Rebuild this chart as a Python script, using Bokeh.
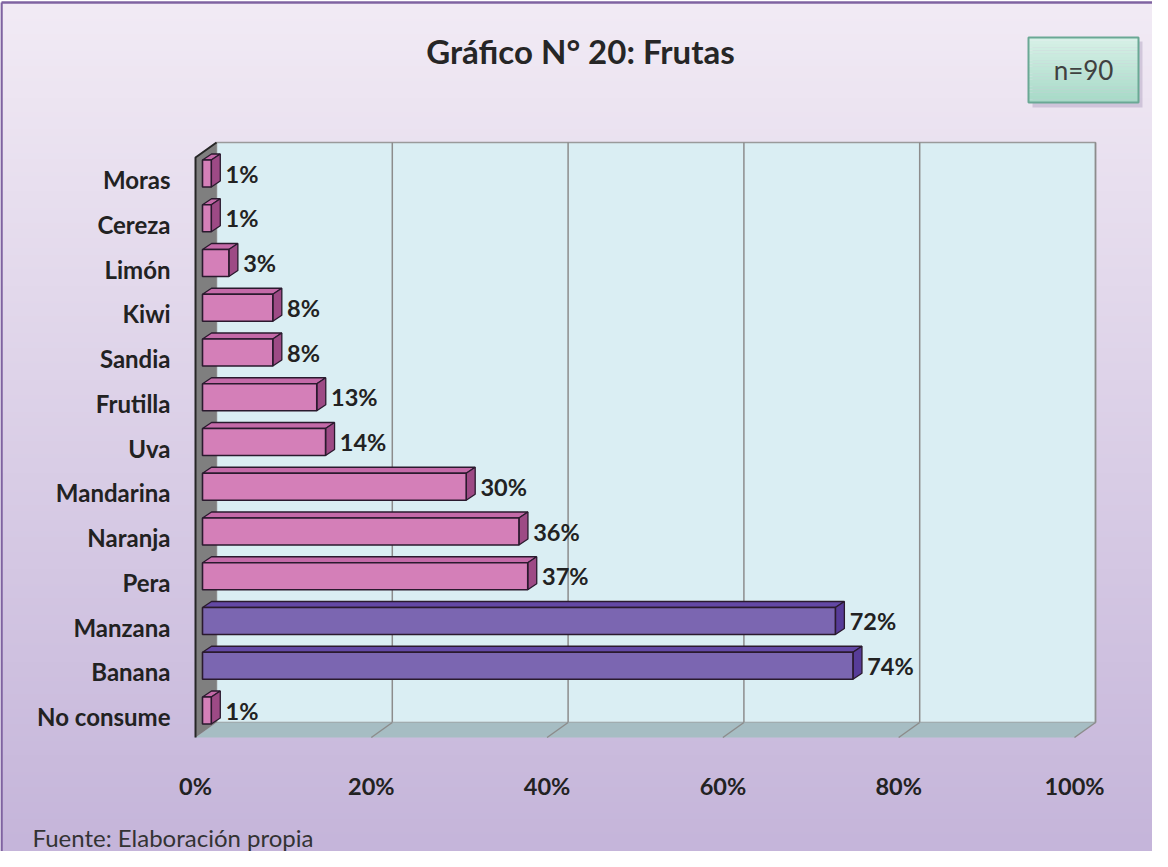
import numpy as np
from bokeh.plotting import figure
from bokeh.models import Range1d, ColumnDataSource
from bokeh.core.properties import value
from bokeh.embed import file_html
from bokeh.resources import INLINE

# ---------------- data ----------------
categories = ["No consume", "Banana", "Manzana", "Pera", "Naranja", "Mandarina",
              "Uva", "Frutilla", "Sandia", "Kiwi", "Limón", "Cereza", "Moras"]
values = [1, 74, 72, 37, 36, 30, 14, 13, 8, 8, 3, 1, 1]
highlight = ["Banana", "Manzana"]
x_ticks = [0, 20, 40, 60, 80, 100]
x_tick_labels = ["0%", "20%", "40%", "60%", "80%", "100%"]
title_text = "Gráfico N° 20: Frutas"
n_text = "n=90"
source_text = "Fuente: Elaboración propia"

# ---------------- geometry (page pixels -> data units) ----------------
W, H = 1152, 851
OFF = 8
X0, SX = 203.0, 8.79      # page x of 0 %, px per percent
Y0, SY = 724.0, 44.75     # page y of first category, px per category


def X(px):
    return (px - X0) / SX


def Y(py):
    return (Y0 - py) / SY


x_start, x_end = X(OFF), X(OFF + W)
y_start, y_end = Y(OFF + H), Y(OFF)

p = figure(width=W, height=H, x_range=Range1d(x_start, x_end), y_range=Range1d(y_start, y_end),
           output_backend="svg", toolbar_location=None, min_border=0,
           x_axis_location=None, y_axis_location=None, outline_line_color=None,
           background_fill_color="white", border_fill_color="white")
p.xgrid.visible = False
p.ygrid.visible = False

# background gradient
GH = 400
img = np.zeros((GH, 2), dtype=np.uint32)
view = img.view(dtype=np.uint8).reshape((GH, 2, 4))
top_c = np.array([242, 235, 245])
bot_c = np.array([197, 181, 218])
for r in range(GH):
    t = r / (GH - 1)  # 0 bottom, 1 top
    c = bot_c + (top_c - bot_c) * t
    view[r, :, 0] = int(c[0]); view[r, :, 1] = int(c[1]); view[r, :, 2] = int(c[2]); view[r, :, 3] = 255
p.image_rgba(image=[img], x=X(9), y=y_start, dw=x_end - X(9), dh=Y(10) - y_start)

# outer border
p.line([X(9), X(1170)], [Y(10), Y(10)], line_color="#7f63a1", line_width=2.5)
p.line([X(9), X(9)], [Y(10), Y(870)], line_color="#7f63a1", line_width=2.5)

# ---------------- 3D walls ----------------
DX = X(224) - X(203)
yf_bot, yb_bot = Y(745), Y(730)
yf_top, yb_top = Y(165), Y(150)

# back wall
p.quad(left=DX, right=100 + DX, bottom=yb_bot, top=yb_top,
       fill_color="#daeef3", line_color="#9a9a9a", line_width=1.5)
# grid lines on back wall and floor
for t in x_ticks[1:]:
    p.line([t + DX, t + DX], [yb_bot, yb_top], line_color="#8c8c8c", line_width=1.5)
# floor
p.patch([0, 100, 100 + DX, DX], [yf_bot, yf_bot, yb_bot, yb_bot],
        fill_color="#a6bdc3", line_color=None)
for t in x_ticks[1:]:
    p.line([t, t + DX], [yf_bot, yb_bot], line_color="#8c8c8c", line_width=1.5)
# left wall
p.patch([0, 0, DX, DX], [yf_bot, yf_top, yb_top, yb_bot],
        fill_color="#7f7f7f", line_color=None)
p.line([0, 0, DX], [yf_bot, yf_top, yb_top], line_color="#262626", line_width=2)

# ---------------- bars ----------------
BX = 7 / SX
BY = 6 / SY
BH = 27 / SY
BDX = 9 / SX
BDY = 6 / SY

front = dict(l=[], r=[], b=[], t=[], c=[])
tops = dict(xs=[], ys=[], c=[])
sides = dict(xs=[], ys=[], c=[])
lab = dict(x=[], y=[], text=[])
for i, (cat, v) in enumerate(zip(categories, values)):
    hi = cat in highlight
    yc = i + BY
    y0, y1 = yc - BH / 2, yc + BH / 2
    x0, x1 = BX, BX + v
    front["l"].append(x0); front["r"].append(x1); front["b"].append(y0); front["t"].append(y1)
    front["c"].append("#7b66b1" if hi else "#d47fb8")
    tops["xs"].append([x0, x1, x1 + BDX, x0 + BDX]); tops["ys"].append([y1, y1, y1 + BDY, y1 + BDY])
    tops["c"].append("#6348a5" if hi else "#c46aa8")
    sides["xs"].append([x1, x1 + BDX, x1 + BDX, x1]); sides["ys"].append([y0, y0 + BDY, y1 + BDY, y1])
    sides["c"].append("#573c98" if hi else "#9d4a85")
    lab["x"].append(x1 + BDX + 0.6); lab["y"].append(yc); lab["text"].append(f"{v}%")

p.patches(xs="xs", ys="ys", fill_color="c", source=ColumnDataSource(tops),
          line_color="#2a1a2e", line_width=1.3)
p.patches(xs="xs", ys="ys", fill_color="c", source=ColumnDataSource(sides),
          line_color="#2a1a2e", line_width=1.3)
p.quad(left="l", right="r", bottom="b", top="t", fill_color="c", source=ColumnDataSource(front),
       line_color="#2a1a2e", line_width=1.6)

FONT = value("Lato")
p.text(x="x", y="y", text="text", source=ColumnDataSource(lab), text_font=FONT,
       text_font_style="bold", text_font_size="23.5px", text_color="#222222",
       text_align="left", text_baseline="middle")

# category labels
p.text(x=[X(178)] * len(categories), y=list(range(len(categories))), text=categories,
       text_font=FONT, text_font_style="bold", text_font_size="24px", text_color="#222222",
       text_align="right", text_baseline="middle")

# x tick labels
p.text(x=x_ticks, y=[Y(793)] * len(x_ticks), text=x_tick_labels,
       text_font=FONT, text_font_style="bold", text_font_size="23.5px", text_color="#222222",
       text_align="center", text_baseline="middle")

# title
p.text(x=[X(588)], y=[Y(58)], text=[title_text], text_font=FONT, text_font_style="bold",
       text_font_size="33px", text_color="#262626", text_align="center", text_baseline="middle")

# n=90 box with shadow and gradient
p.quad(left=X(1040), right=X(1150), top=Y(49), bottom=Y(115), fill_color="#9c8aae",
       fill_alpha=0.35, line_color=None)
NS = 20
bl, br, bt, bb = X(1036), X(1146), Y(45), Y(110)
for k in range(NS):
    t = k / (NS - 1)
    c = (int(168 + (215 - 168) * t), int(218 + (241 - 218) * t), int(200 + (231 - 200) * t))
    yb_ = bb + (bt - bb) * k / NS
    yt_ = bb + (bt - bb) * (k + 1) / NS
    p.quad(left=bl, right=br, bottom=yb_, top=yt_, fill_color=c, line_color=None)
p.quad(left=bl, right=br, bottom=bb, top=bt, fill_color=None, line_color="#6aa895", line_width=2)
p.text(x=[X(1091)], y=[Y(77)], text=[n_text], text_font=FONT, text_font_size="26px",
       text_color="#404040", text_align="center", text_baseline="middle")

# source
p.text(x=[X(40)], y=[Y(845)], text=[source_text], text_font=FONT, text_font_size="24px",
       text_color="#333333", text_align="left", text_baseline="middle")

open("out.html", "w").write(file_html(p, INLINE))
